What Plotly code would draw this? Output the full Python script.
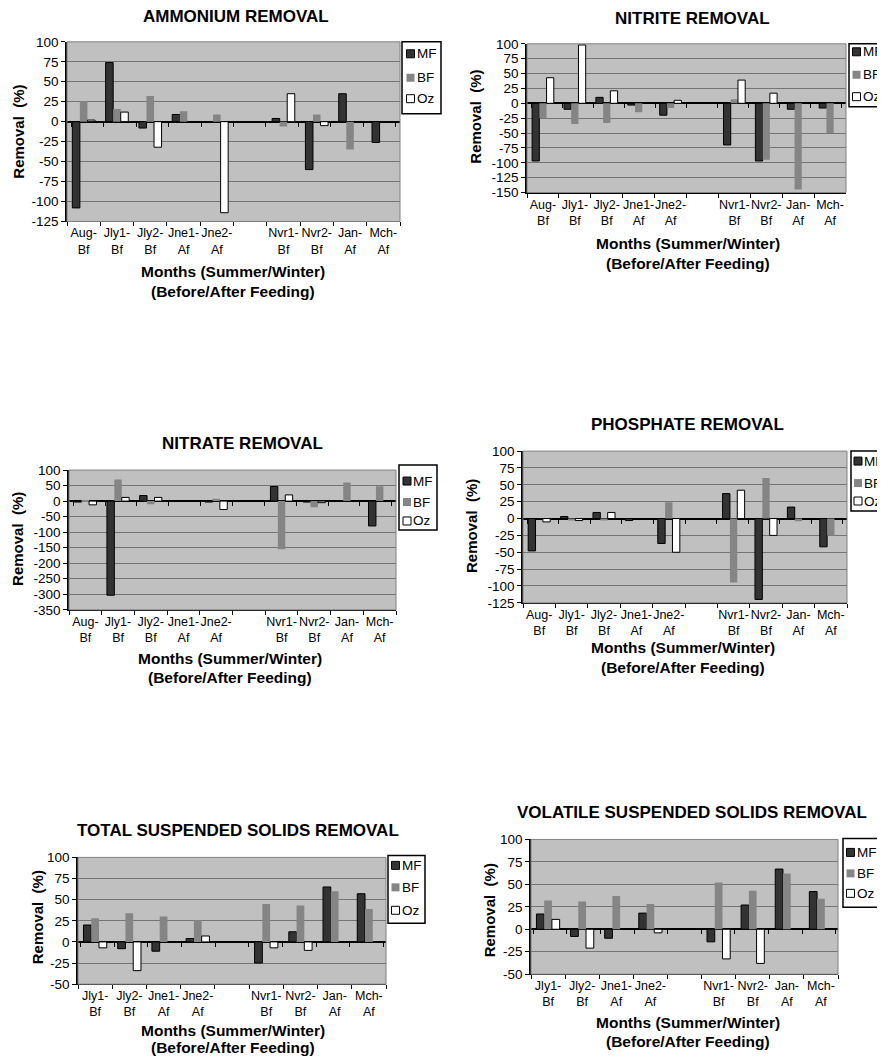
import plotly.graph_objects as go

W, H = 885, 1056
OX, OY = 8, 8          # page body margin in the browser
FW, FH = W - OX, H
VA, VB = 5.25, 0.9875  # measured vertical mapping of the photographed page
FONT = "Arial, Liberation Sans, sans-serif"

series_names = ["MF", "BF", "Oz"]
series_colors = ["#333333", "#858585", "#ffffff"]
series_lines = ["#000000", "#858585", "#000000"]

cats_long = ["Aug-Bf", "Jly1-Bf", "Jly2-Bf", "Jne1-Af", "Jne2-Af", " ",
             "Nvr1-Bf", "Nvr2-Bf", "Jan-Af", "Mch-Af"]
cats_short = ["Jly1-Bf", "Jly2-Bf", "Jne1-Af", "Jne2-Af", " ",
              "Nvr1-Bf", "Nvr2-Bf", "Jan-Af", "Mch-Af"]

# Ammonium removal (%)
ammonium_mf = [-108, 74, -8, 9, None, None, 4, -60, 35, -26]
ammonium_bf = [26, 16, 32, 13, 9, None, -6, 9, -35, None]
ammonium_oz = [2, 12, -32, None, -114, None, 35, -5, None, None]

# Nitrite removal (%)
nitrite_mf = [-97, -10, 10, -3, -20, None, -70, -97, -10, -8]
nitrite_bf = [-25, -35, -33, -15, -8, None, 7, -95, -145, -50]
nitrite_oz = [43, 98, 21, None, 5, None, 39, 17, None, None]

# Nitrate removal (%)
nitrate_mf = [-3, -303, 18, None, -3, None, 47, -3, None, -80]
nitrate_bf = [2, 70, -10, None, 8, None, -155, -20, 60, 48]
nitrate_oz = [-12, 12, 12, None, -27, None, 20, -5, None, None]

# Phosphate removal (%)
phosphate_mf = [-48, 3, 9, -3, -37, None, 37, -120, 17, -42]
phosphate_bf = [None, -3, -3, None, 24, None, -95, 60, -4, -25]
phosphate_oz = [-5, -3, 9, None, -50, None, 42, -25, None, None]

# Total suspended solids removal (%)
tss_mf = [20, -8, -11, 4, None, -25, 12, 65, 57]
tss_bf = [28, 34, 30, 26, None, 45, 43, 60, 39]
tss_oz = [-7, -34, None, 7, None, -7, -10, None, None]

# Volatile suspended solids removal (%)
vss_mf = [17, -8, -10, 18, None, -14, 27, 67, 42]
vss_bf = [32, 31, 37, 28, None, 52, 43, 62, 34]
vss_oz = [11, -21, None, -4, None, -33, -38, None, None]

panels = [
    dict(title="AMMONIUM REMOVAL", cats=cats_long,
         data=[ammonium_mf, ammonium_bf, ammonium_oz],
         box=(67, 40, 400, 220), rng=(-125, 100), dtick=25,
         title_pos=(236, 15), ytitle_pos=(19, 130), xtitle_pos=(233, 270, 290),
         legend=(402, 40, 441, 112, 406.5, [52, 76, 97])),
    dict(title="NITRITE REMOVAL", cats=cats_long,
         data=[nitrite_mf, nitrite_bf, nitrite_oz],
         box=(527, 42, 846, 191), rng=(-150, 100), dtick=25,
         title_pos=(692, 17), ytitle_pos=(476, 115), xtitle_pos=(688, 242, 262),
         legend=(849, 42, 895, 105, 852.5, [50, 73, 95])),
    dict(title="NITRATE REMOVAL", cats=cats_long,
         data=[nitrate_mf, nitrate_bf, nitrate_oz],
         box=(69, 469, 396, 609), rng=(-350, 100), dtick=50,
         title_pos=(242, 442), ytitle_pos=(18, 538), xtitle_pos=(230, 658, 677),
         legend=(399, 464, 437, 529, 403, [480, 501, 520])),
    dict(title="PHOSPHATE REMOVAL", cats=cats_long,
         data=[phosphate_mf, phosphate_bf, phosphate_oz],
         box=(523, 450, 847, 602), rng=(-125, 100), dtick=25,
         title_pos=(687, 423), ytitle_pos=(472, 525), xtitle_pos=(683, 647, 667),
         legend=(851, 450, 895, 510, 854, [460, 482, 500])),
    dict(title="TOTAL SUSPENDED SOLIDS REMOVAL", cats=cats_short,
         data=[tss_mf, tss_bf, tss_oz],
         box=(78, 857, 386, 984), rng=(-50, 100), dtick=25,
         title_pos=(238, 830), ytitle_pos=(37, 917), xtitle_pos=(233, 1030, 1047),
         legend=(388, 855, 425, 923, 391.5, [865, 887, 910])),
    dict(title="VOLATILE SUSPENDED SOLIDS REMOVAL", cats=cats_short,
         data=[vss_mf, vss_bf, vss_oz],
         box=(531, 839, 838, 974), rng=(-50, 100), dtick=25,
         title_pos=(692, 812), ytitle_pos=(489, 910), xtitle_pos=(688, 1022, 1041),
         legend=(843, 838, 882, 907, 846.5, [852, 873, 893])),
]

fig = go.Figure()
annotations = []
shapes = []
layout = {}


def px(x):
    return (x - OX) / FW


def py(y):
    return 1 - ((y - VA) / VB - OY) / FH


n_panels = len(panels)
for i, p in enumerate(panels, start=1):
    sfx = "" if i == 1 else str(i)
    zsfx = str(i + n_panels)
    xa, ya, xz = "x" + sfx, "y" + sfx, "x" + zsfx
    x0, y0, x1, y1 = p["box"]
    ticktext = [c.replace("-", "-<br>") if c.strip() else "" for c in p["cats"]]
    lo, hi = p["rng"]
    yvals = list(range(lo, hi + 1, p["dtick"]))
    for name, vals, col, lc in zip(series_names, p["data"], series_colors, series_lines):
        fig.add_trace(go.Bar(
            x=p["cats"], y=vals, name=name, xaxis=xa, yaxis=ya,
            marker=dict(color=col, line=dict(color=lc, width=1 if name != "BF" else 0)),
            showlegend=False,
        ))
    # empty helper trace so the zero-line category axis shows its tick marks
    fig.add_trace(go.Scatter(x=p["cats"], y=[None] * len(p["cats"]), mode="markers",
                             xaxis=xz, yaxis=ya, showlegend=False, hoverinfo="skip"))
    ydom = [py(y1), py(y0)]
    layout["xaxis" + sfx] = dict(
        domain=[px(x0), px(x1)], anchor=ya, type="category",
        categoryorder="array", categoryarray=p["cats"],
        tickvals=p["cats"], ticktext=ticktext, tickangle=0,
        tickson="boundaries", ticks="outside", ticklen=4, tickcolor="black",
        showline=True, linecolor="black", linewidth=1,
        showgrid=False, tickfont=dict(family=FONT, size=12.5, color="black"),
        fixedrange=True,
    )
    layout["xaxis" + zsfx] = dict(
        domain=[px(x0), px(x1)], anchor="free", overlaying=xa, side="bottom",
        position=ydom[0] + (0 - lo) / (hi - lo) * (ydom[1] - ydom[0]),
        type="category", categoryorder="array", categoryarray=p["cats"],
        tickson="boundaries", ticks="outside", ticklen=4, tickcolor="black",
        showticklabels=False, showline=False, showgrid=False, fixedrange=True,
    )
    layout["yaxis" + sfx] = dict(
        domain=ydom, anchor=xa, range=[lo, hi],
        tickvals=yvals, ticktext=[str(v) for v in yvals],
        ticks="outside", ticklen=4, tickcolor="black",
        showline=True, linecolor="black", linewidth=1.5,
        showgrid=True, gridcolor="#747474", gridwidth=1,
        zeroline=True, zerolinecolor="black", zerolinewidth=2,
        tickfont=dict(family=FONT, size=13.5, color="black"),
        fixedrange=True,
    )
    # plot-area border
    shapes.append(dict(type="rect", xref=xa + " domain", yref=ya + " domain",
                       x0=0, x1=1, y0=0, y1=1, line=dict(color="#808080", width=1),
                       layer="above"))
    # titles
    tx, ty = p["title_pos"]
    annotations.append(dict(x=px(tx), y=py(ty), xref="paper", yref="paper",
                            text="<b>%s</b>" % p["title"], showarrow=False,
                            xanchor="center", yanchor="middle",
                            font=dict(family=FONT, size=17, color="black")))
    yx, yy = p["ytitle_pos"]
    annotations.append(dict(x=px(yx), y=py(yy), xref="paper", yref="paper",
                            text="<b>Removal  (%)</b>", showarrow=False, textangle=-90,
                            xanchor="center", yanchor="middle",
                            font=dict(family=FONT, size=15, color="black")))
    xx, xl1, xl2 = p["xtitle_pos"]
    for txt, yy2 in (("Months (Summer/Winter)", xl1), ("(Before/After Feeding)", xl2)):
        annotations.append(dict(x=px(xx), y=py(yy2), xref="paper", yref="paper",
                                text="<b>%s</b>" % txt, showarrow=False,
                                xanchor="center", yanchor="middle",
                                font=dict(family=FONT, size=15.5, color="black")))
    # legend box
    lx0, ly0, lx1, ly1, sx0, rows = p["legend"]
    shapes.append(dict(type="rect", xref="paper", yref="paper",
                       x0=px(lx0), x1=px(lx1), y0=py(ly1), y1=py(ly0),
                       line=dict(color="black", width=1.5), fillcolor="white"))
    for name, col, lc, ry in zip(series_names, series_colors, series_lines, rows):
        shapes.append(dict(type="rect", xref="paper", yref="paper",
                           x0=px(sx0), x1=px(sx0 + 8), y0=py(ry + 4), y1=py(ry - 4),
                           line=dict(color=lc, width=1 if name != "BF" else 0),
                           fillcolor=col))
        annotations.append(dict(x=px(sx0 + 8), y=py(ry), xref="paper", yref="paper",
                                text=name, showarrow=False, xanchor="left",
                                yanchor="middle",
                                font=dict(family=FONT, size=13.5, color="black")))

fig.update_layout(**layout)
fig.update_layout(
    width=FW, height=FH, margin=dict(l=0, r=0, t=0, b=0),
    paper_bgcolor="white", plot_bgcolor="#c0c0c0",
    barmode="group", bargap=0.32, bargroupgap=0,
    annotations=annotations, shapes=shapes, showlegend=False,
    font=dict(family=FONT, color="black"),
)
fig.write_html("out.html")
